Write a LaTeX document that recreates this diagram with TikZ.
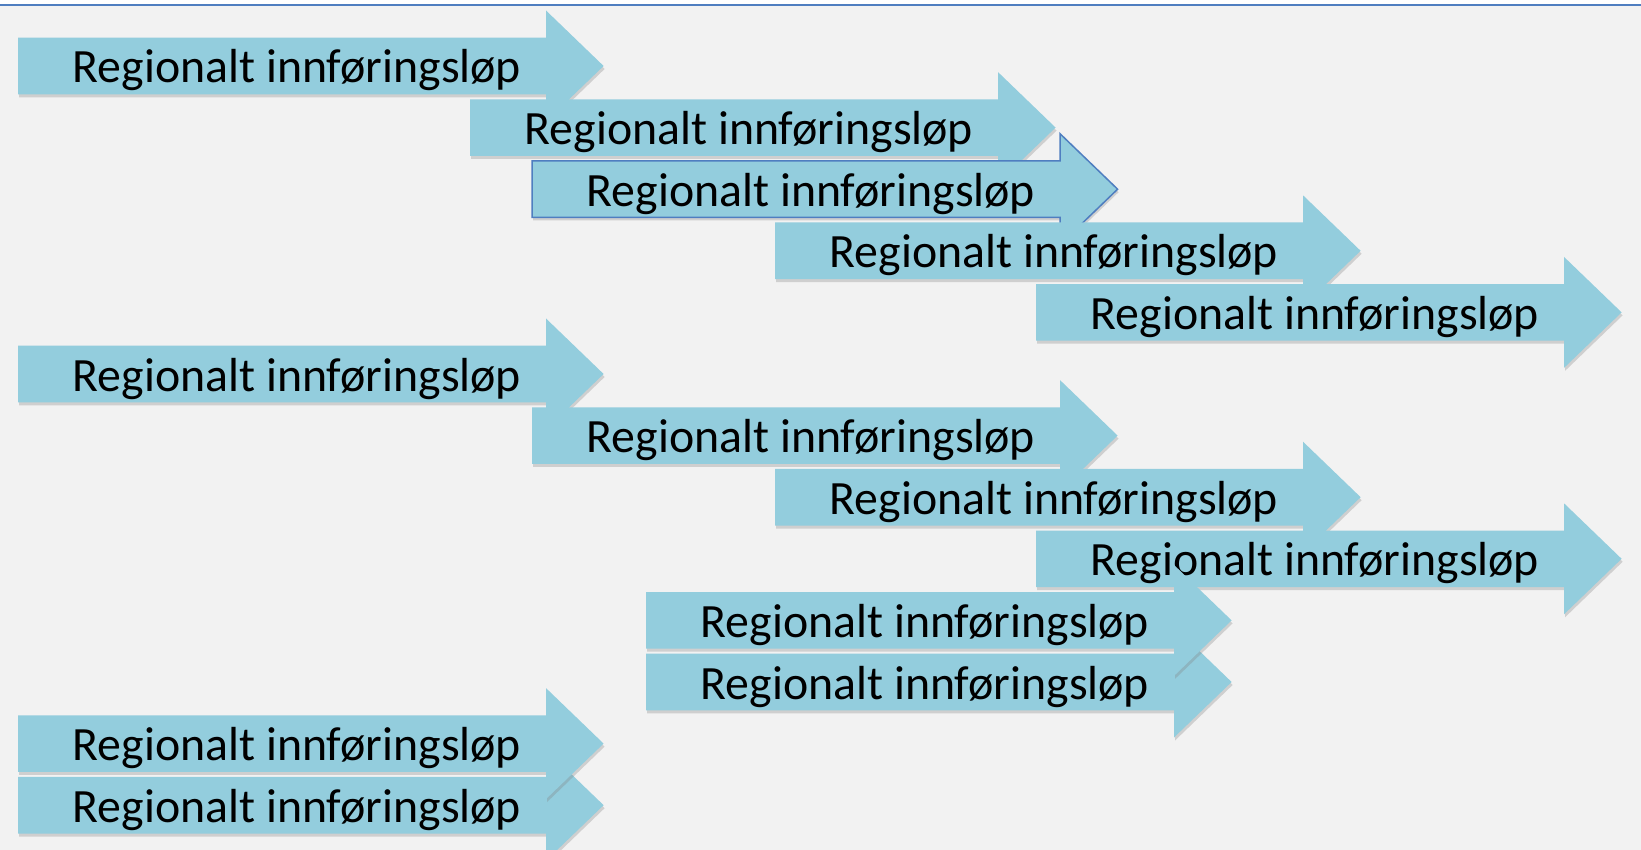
\documentclass[tikz,border=0pt]{standalone}
\usepackage{fontspec}
\setmainfont{Carlito}
\usepackage{xcolor}
\definecolor{lopfarge}{HTML}{93CDDD}
\definecolor{bakgrunn}{HTML}{F2F2F2}
\definecolor{kantlinje}{HTML}{4F7EC0}
\usepackage{tikz}
\usetikzlibrary{shadows}

% one arrow: [extra style]{left x}{middle y}{node name}
\newcommand{\lopspil}[4][]{%
    \fill[lop, #1] (#2, #3) ++(0, -28.3) -- ++(528, 0) -- ++(0, -27.2) -- ++(57.6, 55.5)
        -- ++(-57.6, 55.5) -- ++(0, -27.2) -- ++(-528, 0) -- cycle;
    \node[loptekst] (#4) at (#2 + 279, #3 + 17) {Regionalt innføringsløp};
}

\begin{document}
\begin{tikzpicture}[x=1pt, y=-1pt,
        lop/.style={fill=lopfarge, drop shadow={shadow xshift=1pt, shadow yshift=-3pt, opacity=0.3}},
        loptekst/.style={anchor=base, inner sep=0pt, font=\fontsize{47.8}{50}\selectfont}]
            \useasboundingbox (0, 0) rectangle (1641, 850);
            \fill[bakgrunn] (0, 5) rectangle (1641, 850);
            \draw[kantlinje, line width=1.6pt] (0, 5) to (1641, 5);

            \lopspil{18}{66}{r1}
            \lopspil{470}{127.6}{r2}
            \lopspil[draw=kantlinje, line width=1.5pt]{532}{189.2}{r3}
            \lopspil{775}{250.8}{r4}
            \lopspil{1036}{312.4}{r5}

            \lopspil{18}{374}{r6}
            \lopspil{532}{435.6}{r7}
            \lopspil{775}{497.2}{r8}
            \lopspil{1036}{558.8}{r9}

            % the upper one of each pair lies on top
            \lopspil{646}{682}{r11}
            \lopspil{646}{620.4}{r10}

            \lopspil{18}{805.2}{r13}
            \lopspil{18}{743.6}{r12}
        \end{tikzpicture}
\end{document}
